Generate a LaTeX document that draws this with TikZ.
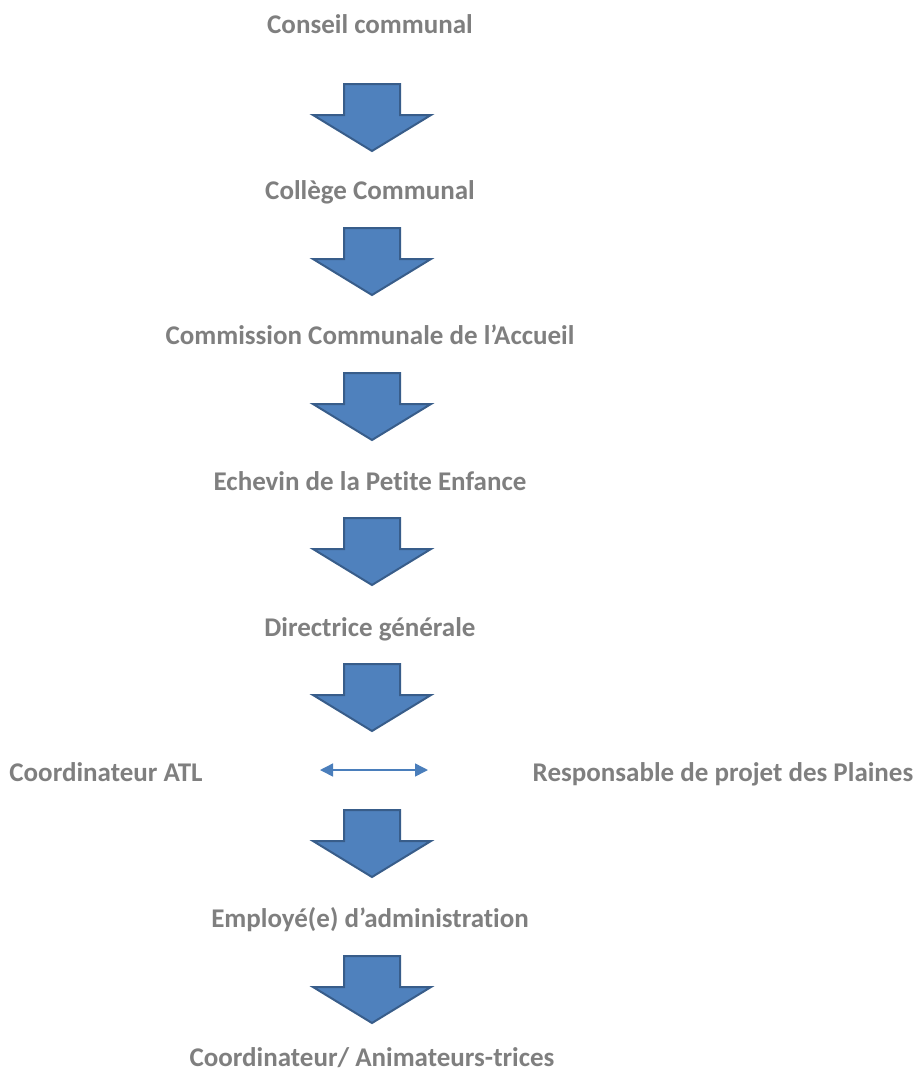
\documentclass[tikz,border=0pt]{standalone}
\usepackage{fontspec}
\setmainfont[Ligatures={NoCommon}]{Carlito}
\usetikzlibrary{arrows.meta}
\definecolor{txtgray}{RGB}{127,127,127}
\definecolor{arrfill}{RGB}{79,129,189}
\definecolor{arrline}{RGB}{56,93,138}
\definecolor{dblarr}{RGB}{74,126,187}
\begin{document}
\begin{tikzpicture}[x=1pt,y=-1pt,
  lbl/.style={font=\fontsize{27}{32}\selectfont\bfseries, text=txtgray, inner sep=0pt, anchor=base},
  blockarrow/.style={fill=arrfill, draw=arrline, line width=2pt, line join=miter}]
\useasboundingbox (0,0) rectangle (920,1074);
\node[lbl] (n1) at (370,33) {Conseil communal};
\node[lbl] (n2) at (370,199) {Collège Communal};
\node[lbl] (n3) at (370,344) {Commission Communale de l’Accueil};
\node[lbl] (n4) at (370,490) {Echevin de la Petite Enfance};
\node[lbl] (n5) at (370,636) {Directrice générale};
\node[lbl] (n6) at (106,781) {Coordinateur ATL};
\node[lbl] (n7) at (723,781) {Responsable de projet des Plaines};
\node[lbl] (n8) at (370,927) {Employé(e) d’administration};
\node[lbl] (n9) at (372,1066) {Coordinateur/ Animateurs-trices};
\foreach \t in {84,228,373,518,664,810,956}{
  \draw[blockarrow] (344,\t) -- (400,\t) -- (400,\t+31) -- (431,\t+31) -- (372,\t+67) -- (313,\t+31) -- (344,\t+31) -- cycle;
}
\coordinate (da) at (320,770);
\coordinate (db) at (428,770);
\draw[dblarr, line width=1.5pt, {Triangle[length=13pt,width=13pt]}-{Triangle[length=13pt,width=13pt]}] (da) -- (db);
\end{tikzpicture}
\end{document}
